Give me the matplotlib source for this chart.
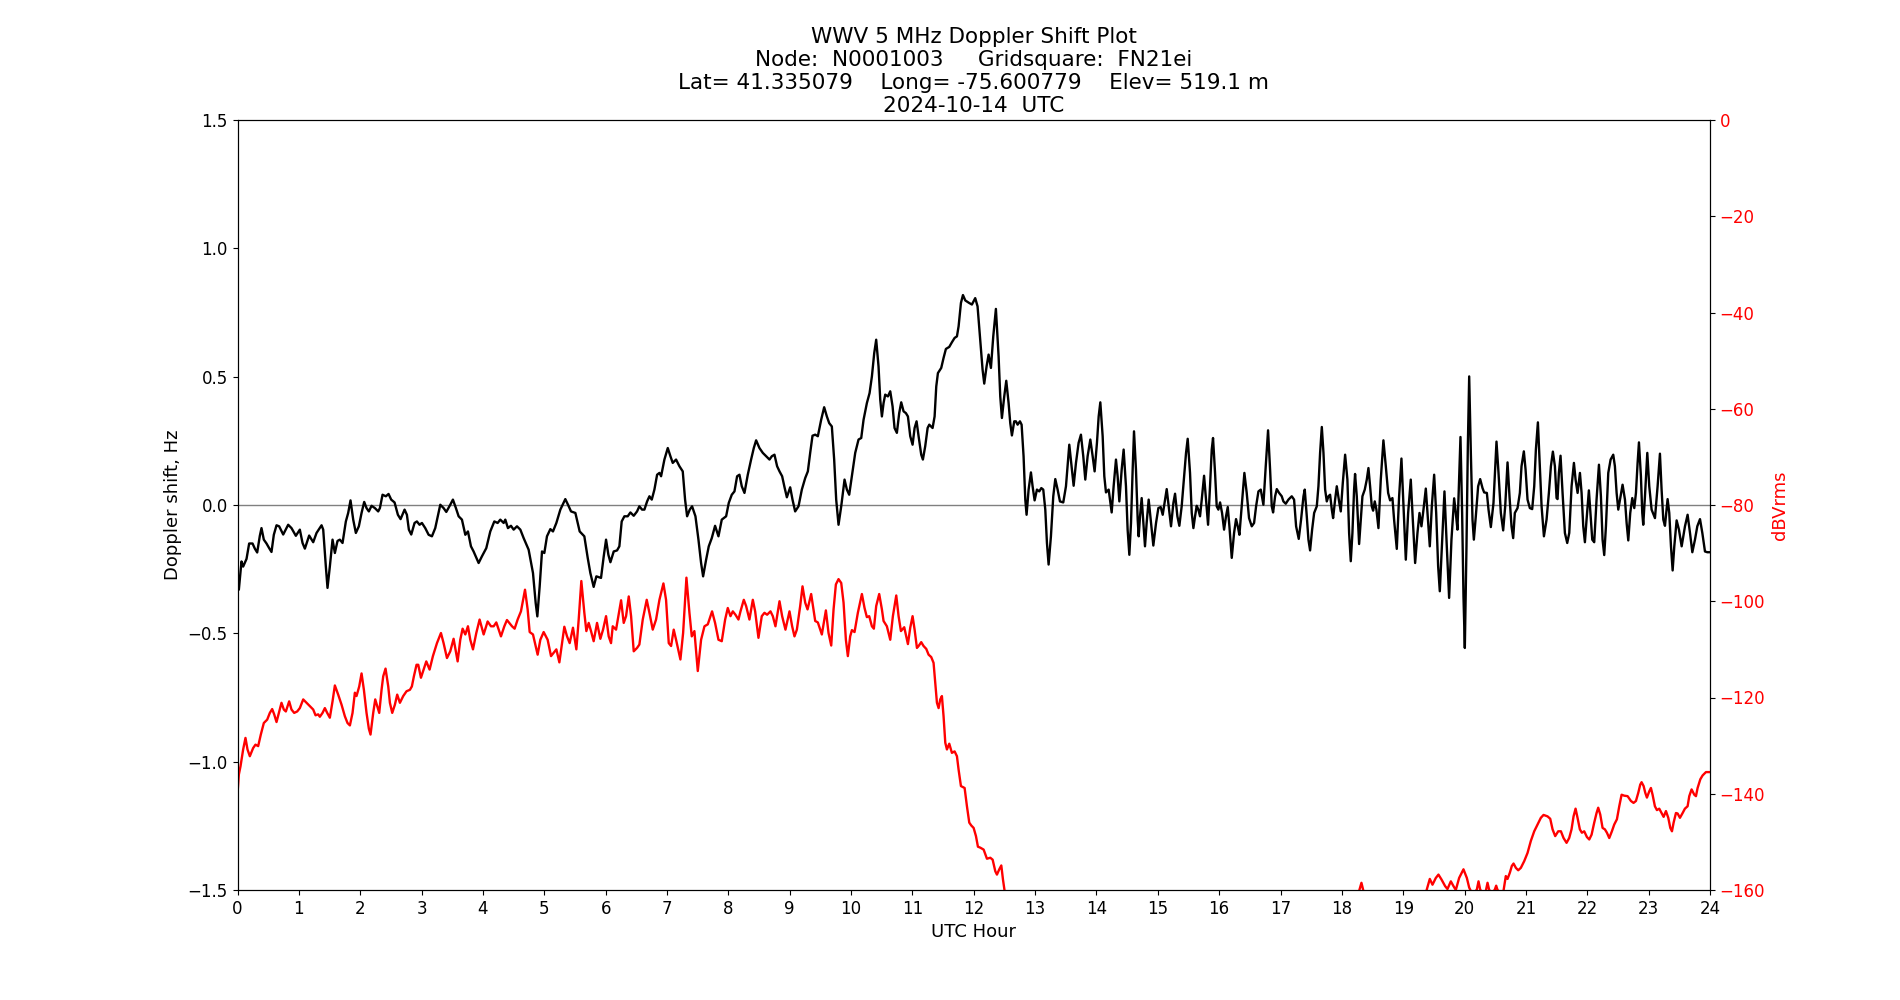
import matplotlib
matplotlib.use("Agg")
import matplotlib.pyplot as plt

# Doppler shift (Hz) vs UTC hour
doppler_hours = [
    0.000, 0.022, 0.065, 0.092, 0.147, 0.190, 0.245, 0.283, 0.321, 0.364,
    0.391, 0.429, 0.473, 0.516, 0.554, 0.592, 0.636, 0.679, 0.745, 0.826,
    0.880, 0.951, 1.016, 1.060, 1.098, 1.168, 1.234, 1.288, 1.370, 1.397,
    1.440, 1.467, 1.505, 1.549, 1.587, 1.630, 1.668, 1.712, 1.766, 1.804,
    1.842, 1.886, 1.929, 1.978, 2.022, 2.065, 2.103, 2.141, 2.185, 2.239,
    2.293, 2.321, 2.364, 2.418, 2.462, 2.505, 2.560, 2.614, 2.658, 2.723,
    2.761, 2.793, 2.832, 2.886, 2.924, 2.967, 3.006, 3.060, 3.115, 3.169,
    3.223, 3.305, 3.359, 3.403, 3.468, 3.511, 3.560, 3.604, 3.658, 3.713,
    3.756, 3.805, 3.848, 3.930, 3.984, 4.055, 4.120, 4.186, 4.240, 4.283,
    4.338, 4.365, 4.408, 4.457, 4.501, 4.555, 4.610, 4.664, 4.745, 4.816,
    4.860, 4.887, 4.925, 4.963, 5.001, 5.044, 5.099, 5.142, 5.197, 5.262,
    5.343, 5.387, 5.436, 5.507, 5.577, 5.653, 5.708, 5.751, 5.805, 5.849,
    5.925, 5.969, 6.007, 6.045, 6.078, 6.132, 6.186, 6.224, 6.262, 6.306,
    6.360, 6.404, 6.458, 6.512, 6.550, 6.594, 6.632, 6.676, 6.714, 6.752,
    6.795, 6.839, 6.877, 6.904, 6.958, 7.013, 7.056, 7.094, 7.148, 7.203,
    7.257, 7.295, 7.328, 7.371, 7.409, 7.464, 7.513, 7.556, 7.589, 7.638,
    7.681, 7.730, 7.784, 7.839, 7.893, 7.964, 8.007, 8.056, 8.100, 8.143,
    8.181, 8.219, 8.263, 8.317, 8.371, 8.415, 8.453, 8.507, 8.562, 8.616,
    8.671, 8.709, 8.752, 8.795, 8.834, 8.877, 8.915, 8.954, 9.008, 9.046,
    9.089, 9.144, 9.198, 9.253, 9.296, 9.334, 9.372, 9.416, 9.459, 9.513,
    9.562, 9.606, 9.644, 9.687, 9.725, 9.758, 9.796, 9.840, 9.894, 9.932,
    9.970, 10.014, 10.068, 10.122, 10.166, 10.204, 10.258, 10.302, 10.340, 10.378,
    10.410, 10.448, 10.476, 10.503, 10.530, 10.557, 10.601, 10.639, 10.677, 10.709,
    10.747, 10.785, 10.818, 10.856, 10.894, 10.927, 10.965, 11.003, 11.036, 11.068,
    11.101, 11.144, 11.171, 11.209, 11.248, 11.275, 11.329, 11.362, 11.389, 11.416,
    11.470, 11.508, 11.546, 11.601, 11.644, 11.688, 11.726, 11.753, 11.791, 11.824,
    11.862, 11.926, 11.970, 12.024, 12.062, 12.100, 12.144, 12.171, 12.209, 12.242,
    12.280, 12.318, 12.361, 12.405, 12.432, 12.459, 12.497, 12.530, 12.568, 12.595,
    12.622, 12.660, 12.687, 12.715, 12.753, 12.780, 12.812, 12.840, 12.861, 12.894,
    12.932, 12.959, 12.992, 13.030, 13.068, 13.101, 13.133, 13.166, 13.193, 13.220,
    13.258, 13.296, 13.329, 13.367, 13.405, 13.459, 13.503, 13.557, 13.601, 13.628,
    13.666, 13.709, 13.747, 13.785, 13.818, 13.856, 13.900, 13.938, 13.970, 14.008,
    14.036, 14.063, 14.101, 14.128, 14.155, 14.199, 14.220, 14.248, 14.280, 14.318,
    14.345, 14.373, 14.411, 14.443, 14.481, 14.508, 14.536, 14.563, 14.590, 14.612,
    14.644, 14.672, 14.688, 14.710, 14.737, 14.764, 14.791, 14.818, 14.851, 14.889,
    14.927, 14.971, 15.009, 15.047, 15.080, 15.118, 15.145, 15.177, 15.215, 15.254,
    15.281, 15.319, 15.351, 15.389, 15.433, 15.460, 15.487, 15.525, 15.553, 15.580,
    15.607, 15.634, 15.661, 15.688, 15.716, 15.754, 15.786, 15.819, 15.851, 15.879,
    15.900, 15.933, 15.960, 15.987, 16.015, 16.047, 16.080, 16.112, 16.140, 16.167,
    16.205, 16.243, 16.275, 16.303, 16.330, 16.368, 16.411, 16.449, 16.487, 16.531,
    16.569, 16.602, 16.640, 16.678, 16.721, 16.759, 16.797, 16.830, 16.857, 16.879,
    16.912, 16.939, 16.977, 17.020, 17.047, 17.085, 17.129, 17.183, 17.221, 17.254,
    17.297, 17.335, 17.374, 17.395, 17.428, 17.455, 17.482, 17.515, 17.548, 17.591,
    17.618, 17.645, 17.673, 17.700, 17.727, 17.754, 17.781, 17.808, 17.836, 17.857,
    17.890, 17.917, 17.950, 17.982, 18.015, 18.053, 18.090, 18.118, 18.145, 18.172,
    18.199, 18.215, 18.243, 18.281, 18.308, 18.335, 18.373, 18.406, 18.433, 18.460,
    18.487, 18.509, 18.536, 18.563, 18.596, 18.634, 18.677, 18.716, 18.754, 18.786,
    18.824, 18.851, 18.895, 18.933, 18.971, 19.004, 19.042, 19.080, 19.123, 19.156,
    19.194, 19.232, 19.265, 19.297, 19.330, 19.368, 19.395, 19.433, 19.466, 19.504,
    19.537, 19.569, 19.596, 19.640, 19.672, 19.710, 19.748, 19.786, 19.830, 19.857,
    19.884, 19.911, 19.933, 19.960, 19.982, 20.004, 20.031, 20.053, 20.075, 20.102,
    20.129, 20.151, 20.183, 20.221, 20.254, 20.292, 20.319, 20.363, 20.390, 20.428,
    20.471, 20.493, 20.520, 20.553, 20.591, 20.629, 20.662, 20.700, 20.732, 20.765,
    20.792, 20.819, 20.863, 20.901, 20.928, 20.966, 20.994, 21.026, 21.064, 21.102,
    21.135, 21.162, 21.195, 21.227, 21.255, 21.293, 21.336, 21.374, 21.407, 21.439,
    21.472, 21.499, 21.515, 21.537, 21.564, 21.597, 21.635, 21.673, 21.706, 21.744,
    21.782, 21.809, 21.842, 21.880, 21.907, 21.934, 21.961, 21.988, 22.026, 22.054,
    22.081, 22.113, 22.151, 22.190, 22.222, 22.249, 22.276, 22.304, 22.342, 22.380,
    22.423, 22.450, 22.478, 22.505, 22.543, 22.575, 22.614, 22.641, 22.668, 22.700,
    22.733, 22.766, 22.793, 22.820, 22.842, 22.874, 22.896, 22.912, 22.940, 22.978,
    23.010, 23.048, 23.103, 23.146, 23.184, 23.211, 23.239, 23.266, 23.309, 23.336,
    23.364, 23.391, 23.418, 23.456, 23.494, 23.538, 23.592, 23.635, 23.674, 23.712,
    23.755, 23.793, 23.837, 23.875, 23.918, 23.956, 24.000,
]
doppler_hz = [
    -0.330, -0.330, -0.220, -0.240, -0.210, -0.150, -0.150, -0.170, -0.185, -0.120,
    -0.090, -0.135, -0.150, -0.168, -0.183, -0.116, -0.079, -0.083, -0.115, -0.077,
    -0.090, -0.120, -0.096, -0.148, -0.170, -0.119, -0.145, -0.109, -0.079, -0.096,
    -0.240, -0.323, -0.240, -0.135, -0.187, -0.140, -0.135, -0.148, -0.064, -0.031,
    0.018, -0.057, -0.109, -0.083, -0.031, 0.012, -0.012, -0.025, -0.003, -0.012,
    -0.025, -0.012, 0.040, 0.034, 0.043, 0.021, 0.010, -0.038, -0.055, -0.018,
    -0.038, -0.096, -0.115, -0.070, -0.064, -0.077, -0.070, -0.090, -0.116, -0.122,
    -0.090, 0.001, -0.012, -0.027, 0.001, 0.021, -0.012, -0.044, -0.057, -0.116,
    -0.103, -0.161, -0.181, -0.226, -0.200, -0.168, -0.103, -0.064, -0.070, -0.057,
    -0.070, -0.057, -0.090, -0.081, -0.096, -0.083, -0.096, -0.129, -0.174, -0.265,
    -0.382, -0.434, -0.317, -0.181, -0.187, -0.122, -0.094, -0.103, -0.070, -0.018,
    0.023, 0.001, -0.025, -0.031, -0.103, -0.122, -0.206, -0.265, -0.319, -0.278,
    -0.284, -0.200, -0.135, -0.194, -0.223, -0.181, -0.177, -0.161, -0.064, -0.044,
    -0.044, -0.029, -0.042, -0.025, -0.005, -0.018, -0.018, 0.014, 0.034, 0.021,
    0.060, 0.118, 0.125, 0.112, 0.177, 0.222, 0.190, 0.164, 0.177, 0.151,
    0.131, 0.021, -0.044, -0.018, -0.005, -0.044, -0.135, -0.226, -0.278, -0.213,
    -0.161, -0.129, -0.081, -0.122, -0.057, -0.044, 0.008, 0.040, 0.053, 0.112,
    0.118, 0.073, 0.047, 0.118, 0.177, 0.222, 0.252, 0.222, 0.203, 0.190,
    0.177, 0.190, 0.196, 0.151, 0.131, 0.112, 0.070, 0.030, 0.069, 0.021,
    -0.025, -0.005, 0.060, 0.105, 0.131, 0.203, 0.270, 0.274, 0.268, 0.332,
    0.381, 0.345, 0.319, 0.306, 0.177, 0.021, -0.077, -0.005, 0.099, 0.060,
    0.040, 0.112, 0.203, 0.255, 0.261, 0.332, 0.397, 0.436, 0.501, 0.592,
    0.644, 0.540, 0.410, 0.345, 0.397, 0.430, 0.423, 0.443, 0.384, 0.300,
    0.281, 0.358, 0.400, 0.365, 0.358, 0.345, 0.268, 0.235, 0.300, 0.326,
    0.268, 0.196, 0.177, 0.229, 0.300, 0.313, 0.300, 0.345, 0.462, 0.514,
    0.534, 0.573, 0.608, 0.616, 0.634, 0.651, 0.657, 0.696, 0.787, 0.818,
    0.797, 0.787, 0.781, 0.806, 0.774, 0.657, 0.527, 0.473, 0.540, 0.586,
    0.534, 0.657, 0.764, 0.579, 0.423, 0.339, 0.423, 0.484, 0.397, 0.319,
    0.271, 0.326, 0.326, 0.313, 0.326, 0.313, 0.190, 0.021, -0.038, 0.060,
    0.127, 0.073, 0.018, 0.060, 0.053, 0.066, 0.060, -0.018, -0.148, -0.232,
    -0.122, 0.034, 0.101, 0.060, 0.014, 0.010, 0.073, 0.235, 0.138, 0.075,
    0.164, 0.242, 0.274, 0.190, 0.099, 0.190, 0.255, 0.190, 0.131, 0.242,
    0.345, 0.400, 0.268, 0.112, 0.049, 0.060, 0.021, -0.029, 0.073, 0.177,
    0.112, 0.014, 0.138, 0.216, 0.073, -0.096, -0.194, -0.070, 0.138, 0.287,
    0.138, -0.057, -0.122, -0.044, 0.027, -0.070, -0.161, -0.070, 0.021, -0.070,
    -0.158, -0.070, -0.012, -0.008, -0.038, 0.021, 0.062, -0.005, -0.083, 0.008,
    0.044, -0.044, -0.081, -0.005, 0.125, 0.203, 0.258, 0.125, -0.031, -0.090,
    -0.044, -0.003, -0.018, -0.044, 0.021, 0.114, 0.021, -0.077, 0.073, 0.216,
    0.261, 0.125, -0.005, -0.018, 0.010, -0.031, -0.096, -0.044, -0.008, -0.083,
    -0.206, -0.109, -0.055, -0.083, -0.116, -0.005, 0.125, 0.047, -0.051, -0.083,
    -0.070, -0.005, 0.053, 0.060, 0.001, 0.151, 0.291, 0.138, -0.005, -0.029,
    0.034, 0.062, 0.047, 0.034, 0.014, 0.005, 0.021, 0.034, 0.021, -0.083,
    -0.132, -0.057, 0.034, 0.060, -0.044, -0.135, -0.177, -0.096, -0.031, -0.005,
    0.073, 0.203, 0.304, 0.203, 0.060, 0.014, 0.034, 0.040, -0.018, -0.051,
    0.021, 0.073, 0.021, -0.025, 0.086, 0.196, 0.099, -0.109, -0.219, -0.109,
    0.060, 0.121, 0.034, -0.152, -0.057, 0.034, 0.060, 0.099, 0.144, 0.073,
    -0.005, -0.022, 0.014, -0.018, -0.090, 0.099, 0.252, 0.151, 0.047, 0.018,
    0.027, -0.057, -0.171, 0.034, 0.181, -0.005, -0.213, -0.031, 0.099, -0.057,
    -0.226, -0.109, -0.031, -0.083, -0.018, 0.064, -0.031, -0.161, -0.005, 0.118,
    -0.031, -0.239, -0.336, -0.109, 0.053, -0.161, -0.362, -0.135, 0.026, -0.031,
    -0.096, 0.099, 0.265, -0.031, -0.356, -0.557, -0.161, 0.229, 0.501, 0.203,
    -0.057, -0.135, -0.044, 0.073, 0.101, 0.066, 0.049, 0.047, -0.018, -0.086,
    0.008, 0.112, 0.247, 0.125, -0.031, -0.099, -0.005, 0.166, 0.034, -0.083,
    -0.129, -0.031, -0.012, 0.047, 0.151, 0.209, 0.138, 0.021, -0.012, -0.016,
    0.073, 0.216, 0.322, 0.151, -0.005, -0.122, -0.057, 0.047, 0.151, 0.208,
    0.151, 0.027, 0.023, 0.125, 0.192, 0.047, -0.109, -0.148, -0.109, 0.073,
    0.164, 0.099, 0.047, 0.125, 0.047, -0.083, -0.145, -0.057, 0.057, -0.044,
    -0.135, -0.145, 0.021, 0.157, 0.034, -0.135, -0.195, -0.083, 0.125, 0.177,
    0.196, 0.151, 0.047, -0.018, 0.034, 0.079, 0.021, -0.070, -0.138, -0.031,
    0.027, -0.012, 0.047, 0.164, 0.244, 0.112, -0.031, -0.077, 0.034, 0.203,
    0.073, -0.018, -0.051, 0.073, 0.200, 0.060, -0.057, -0.081, 0.023, -0.031,
    -0.161, -0.255, -0.161, -0.060, -0.096, -0.161, -0.083, -0.038, -0.109, -0.184,
    -0.135, -0.083, -0.055, -0.109, -0.181, -0.184, -0.184,
]

# Received signal level (dBVrms) vs UTC hour; below -160 it is off the chart
level_hours = [
    0.000, 0.022, 0.049, 0.092, 0.130, 0.163, 0.201, 0.255, 0.293, 0.337,
    0.380, 0.429, 0.484, 0.527, 0.565, 0.598, 0.636, 0.674, 0.717, 0.755,
    0.788, 0.842, 0.880, 0.924, 0.973, 1.016, 1.071, 1.125, 1.179, 1.234,
    1.272, 1.315, 1.342, 1.386, 1.424, 1.462, 1.505, 1.549, 1.587, 1.641,
    1.696, 1.750, 1.793, 1.832, 1.875, 1.913, 1.940, 1.984, 2.022, 2.060,
    2.103, 2.141, 2.168, 2.212, 2.245, 2.277, 2.310, 2.348, 2.375, 2.413,
    2.457, 2.484, 2.522, 2.565, 2.603, 2.647, 2.701, 2.755, 2.810, 2.842,
    2.875, 2.918, 2.946, 2.990, 3.033, 3.077, 3.131, 3.185, 3.251, 3.316,
    3.359, 3.414, 3.468, 3.522, 3.588, 3.631, 3.669, 3.713, 3.756, 3.794,
    3.838, 3.892, 3.946, 4.012, 4.077, 4.131, 4.175, 4.218, 4.294, 4.349,
    4.392, 4.474, 4.517, 4.566, 4.620, 4.686, 4.729, 4.762, 4.816, 4.892,
    4.936, 4.990, 5.055, 5.110, 5.153, 5.197, 5.246, 5.289, 5.327, 5.371,
    5.414, 5.468, 5.523, 5.561, 5.604, 5.653, 5.686, 5.724, 5.762, 5.805,
    5.860, 5.914, 5.958, 6.007, 6.050, 6.088, 6.116, 6.170, 6.208, 6.252,
    6.295, 6.333, 6.377, 6.415, 6.458, 6.512, 6.550, 6.605, 6.670, 6.714,
    6.768, 6.822, 6.877, 6.942, 6.985, 7.029, 7.067, 7.110, 7.148, 7.219,
    7.263, 7.317, 7.366, 7.404, 7.447, 7.502, 7.556, 7.611, 7.665, 7.735,
    7.784, 7.839, 7.893, 7.948, 7.991, 8.035, 8.073, 8.116, 8.165, 8.198,
    8.252, 8.290, 8.344, 8.399, 8.437, 8.491, 8.545, 8.589, 8.632, 8.687,
    8.725, 8.768, 8.834, 8.877, 8.931, 8.997, 9.040, 9.078, 9.117, 9.171,
    9.209, 9.253, 9.291, 9.350, 9.388, 9.416, 9.459, 9.524, 9.590, 9.633,
    9.677, 9.715, 9.753, 9.796, 9.840, 9.878, 9.916, 9.948, 9.986, 10.014,
    10.057, 10.111, 10.177, 10.220, 10.258, 10.296, 10.340, 10.372, 10.410, 10.459,
    10.503, 10.530, 10.584, 10.639, 10.682, 10.737, 10.775, 10.813, 10.867, 10.927,
    10.965, 11.003, 11.036, 11.074, 11.101, 11.144, 11.182, 11.226, 11.264, 11.307,
    11.345, 11.373, 11.400, 11.427, 11.454, 11.481, 11.508, 11.536, 11.563, 11.601,
    11.644, 11.688, 11.726, 11.753, 11.791, 11.851, 11.889, 11.927, 11.960, 11.998,
    12.036, 12.068, 12.106, 12.161, 12.215, 12.270, 12.308, 12.351, 12.378, 12.416,
    12.449, 12.476, 12.503, 12.600, 13.500, 15.000, 16.500, 18.000, 18.250, 18.281,
    18.319, 18.351, 18.450, 19.000, 19.340, 19.384, 19.433, 19.477, 19.531, 19.574,
    19.623, 19.683, 19.721, 19.776, 19.819, 19.857, 19.911, 19.982, 20.037, 20.075,
    20.102, 20.156, 20.200, 20.227, 20.254, 20.292, 20.346, 20.374, 20.401, 20.455,
    20.493, 20.515, 20.537, 20.591, 20.634, 20.672, 20.700, 20.738, 20.770, 20.798,
    20.836, 20.874, 20.917, 20.972, 21.026, 21.080, 21.135, 21.189, 21.243, 21.287,
    21.352, 21.396, 21.434, 21.477, 21.526, 21.570, 21.613, 21.662, 21.705, 21.743,
    21.776, 21.809, 21.841, 21.879, 21.912, 21.950, 21.994, 22.032, 22.070, 22.113,
    22.151, 22.178, 22.211, 22.249, 22.287, 22.320, 22.358, 22.401, 22.439, 22.483,
    22.521, 22.559, 22.602, 22.657, 22.711, 22.754, 22.793, 22.831, 22.863, 22.885,
    22.918, 22.945, 22.972, 23.010, 23.037, 23.064, 23.102, 23.135, 23.173, 23.211,
    23.244, 23.282, 23.320, 23.353, 23.380, 23.407, 23.445, 23.472, 23.510, 23.554,
    23.591, 23.635, 23.662, 23.700, 23.744, 23.771, 23.798, 23.842, 23.879, 23.934,
    23.988, 24.000,
]
level_dbv = [
    -140.0, -136.0, -134.3, -130.8, -128.4, -130.8, -132.2, -130.5, -129.8, -130.1,
    -127.7, -125.3, -124.6, -123.2, -122.4, -123.5, -125.1, -123.2, -121.1, -122.5,
    -122.9, -120.8, -122.5, -123.2, -122.9, -122.2, -120.4, -121.1, -121.8, -122.5,
    -123.7, -123.5, -124.0, -123.2, -122.2, -123.2, -124.2, -120.8, -117.5, -119.4,
    -121.5, -123.9, -125.3, -125.8, -123.2, -119.0, -119.7, -117.7, -115.0, -118.4,
    -123.2, -126.5, -127.7, -123.2, -120.4, -121.8, -123.2, -118.4, -115.6, -114.0,
    -117.7, -121.1, -123.2, -121.5, -119.4, -121.1, -119.7, -118.7, -118.4, -117.7,
    -115.6, -113.2, -113.2, -115.9, -114.2, -112.5, -114.2, -111.4, -108.7, -106.6,
    -108.7, -111.8, -110.4, -107.8, -112.5, -108.0, -105.7, -106.9, -105.2, -108.0,
    -110.0, -106.6, -103.8, -106.9, -104.2, -105.2, -105.2, -104.4, -107.3, -105.2,
    -103.9, -105.2, -105.7, -103.8, -102.1, -97.6, -101.7, -106.4, -106.9, -111.1,
    -108.0, -106.4, -108.0, -111.4, -110.7, -110.0, -112.7, -108.7, -105.3, -107.3,
    -108.7, -105.5, -110.0, -103.8, -95.8, -102.4, -106.2, -104.5, -106.2, -108.3,
    -104.5, -107.8, -105.9, -103.1, -107.3, -108.7, -105.2, -105.9, -103.1, -99.8,
    -104.5, -103.1, -99.0, -103.1, -110.4, -109.7, -109.0, -103.8, -99.7, -102.4,
    -105.9, -103.8, -99.7, -96.3, -99.7, -108.7, -109.3, -105.9, -108.0, -112.1,
    -106.6, -95.1, -102.4, -107.3, -106.2, -114.5, -108.0, -105.2, -104.8, -102.1,
    -104.5, -108.0, -108.3, -103.8, -101.4, -103.1, -102.1, -102.8, -103.8, -102.1,
    -99.7, -101.0, -103.8, -99.7, -102.1, -107.6, -103.1, -102.4, -102.8, -102.1,
    -103.1, -105.2, -100.0, -103.1, -105.9, -102.1, -105.2, -107.3, -105.9, -101.0,
    -96.9, -100.3, -101.7, -98.5, -101.7, -104.1, -104.4, -106.9, -101.9, -106.6,
    -109.2, -101.7, -96.5, -95.4, -96.2, -100.3, -108.0, -111.4, -107.3, -106.0,
    -106.4, -102.4, -98.5, -101.4, -103.3, -103.1, -105.2, -105.7, -101.0, -98.5,
    -101.7, -104.1, -105.2, -108.0, -103.1, -98.8, -103.1, -106.2, -105.4, -108.9,
    -105.5, -103.1, -105.9, -109.7, -109.3, -108.5, -109.3, -109.9, -111.1, -111.6,
    -112.8, -116.9, -121.1, -122.2, -120.4, -119.7, -123.9, -129.4, -130.8, -129.6,
    -131.5, -131.2, -132.2, -135.0, -138.4, -138.8, -142.6, -146.0, -146.6, -147.1,
    -148.8, -151.0, -151.2, -151.6, -153.5, -153.3, -153.7, -156.1, -156.8, -155.7,
    -154.9, -157.8, -160.2, -166.0, -170.0, -170.0, -170.0, -168.0, -162.0, -160.2,
    -158.5, -160.2, -164.0, -166.0, -162.0, -159.9, -157.7, -158.9, -157.5, -156.8,
    -157.8, -159.2, -159.8, -158.2, -159.2, -160.0, -157.5, -155.7, -157.5, -159.5,
    -160.2, -160.6, -159.9, -158.2, -159.9, -160.6, -160.2, -158.5, -160.0, -160.6,
    -159.9, -159.1, -160.0, -160.6, -160.2, -157.1, -157.7, -156.4, -155.0, -154.5,
    -155.4, -155.9, -155.4, -154.0, -152.3, -149.8, -147.8, -146.4, -145.0, -144.4,
    -144.7, -145.2, -147.4, -148.8, -147.8, -147.8, -149.2, -150.2, -149.2, -147.4,
    -144.7, -143.1, -145.0, -147.4, -148.1, -147.8, -149.0, -149.5, -148.5, -146.0,
    -144.0, -142.9, -144.3, -147.1, -147.4, -148.1, -149.2, -147.8, -146.4, -145.3,
    -142.6, -140.2, -140.4, -140.5, -141.5, -141.9, -141.5, -139.8, -138.1, -137.6,
    -138.4, -139.8, -140.8, -139.5, -138.8, -140.2, -142.6, -143.4, -143.1, -144.0,
    -144.8, -143.6, -145.0, -147.1, -147.8, -146.0, -144.0, -144.1, -145.0, -144.0,
    -143.1, -142.6, -140.5, -139.1, -140.2, -140.5, -138.8, -137.0, -136.2, -135.5,
    -135.5, -135.5,
]

title_lines = [
    "WWV 5 MHz Doppler Shift Plot",
    "Node:  N0001003     Gridsquare:  FN21ei",
    "Lat= 41.335079    Long= -75.600779    Elev= 519.1 m",
    "2024-10-14  UTC",
]
hour_ticks = list(range(0, 25))

fig, ax = plt.subplots(figsize=(19, 10), dpi=100)

ax.axhline(0, color="gray", linewidth=1)
ax.plot(doppler_hours, doppler_hz, color="black", linewidth=1.7)
ax.set_xlim(0, 24)
ax.set_ylim(-1.5, 1.5)
ax.set_xticks(hour_ticks)
ax.set_xlabel("UTC Hour", fontsize=13)
ax.set_ylabel("Doppler shift, Hz", fontsize=13)
ax.tick_params(labelsize=12)
ax.set_title("\n".join(title_lines), fontsize=15.5, linespacing=1.18)

ax2 = ax.twinx()
ax2.plot(level_hours, level_dbv, color="red", linewidth=1.7)
ax2.set_ylim(-160, 0)
ax2.set_yticks(range(-160, 1, 20))
ax2.set_ylabel("dBVrms", color="red", fontsize=13)
ax2.tick_params(axis="y", labelcolor="red", labelsize=12)

plt.savefig("out.png")
